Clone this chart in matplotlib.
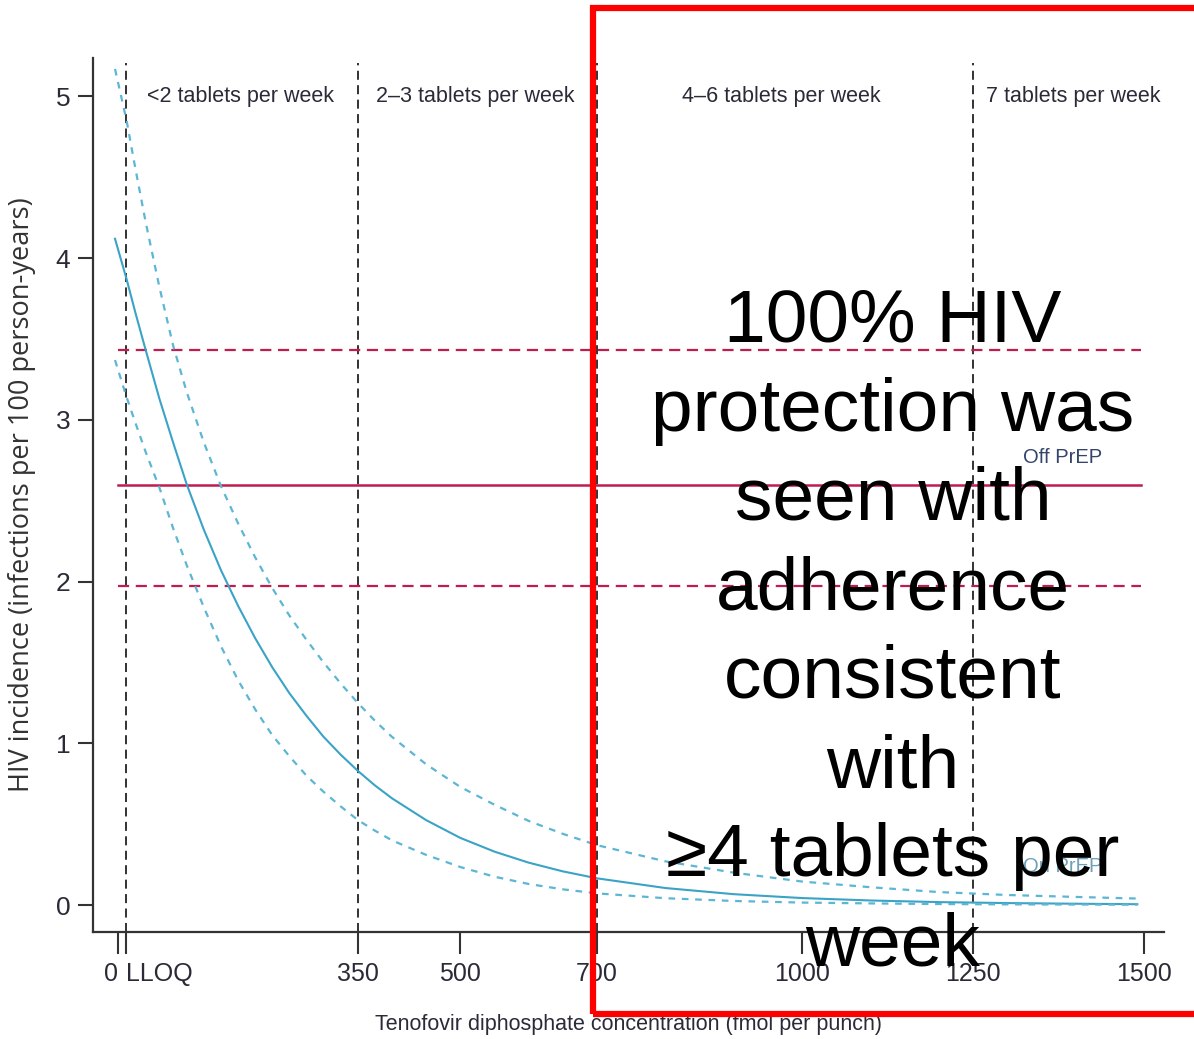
import matplotlib
matplotlib.use("Agg")
import matplotlib.pyplot as plt
from matplotlib.patches import Rectangle

# ---------------- data ----------------
conc = [-5, 12, 25, 40, 60, 80, 100, 125, 150, 175, 200, 225, 250, 275, 300, 325,
        350, 375, 400, 450, 500, 550, 600, 650, 700, 800, 900, 1000, 1100, 1200,
        1300, 1400, 1490]
incidence = [4.12, 3.87, 3.66, 3.43, 3.13, 2.86, 2.60, 2.32, 2.07, 1.85, 1.65, 1.47,
             1.31, 1.17, 1.04, 0.93, 0.83, 0.74, 0.66, 0.525, 0.415, 0.33, 0.262,
             0.208, 0.165, 0.105, 0.067, 0.043, 0.028, 0.018, 0.012, 0.008, 0.005]
upper_ci = [5.17, 4.85, 4.55, 4.22, 3.82, 3.46, 3.17, 2.86, 2.59, 2.36, 2.15, 1.96,
            1.79, 1.64, 1.50, 1.37, 1.25, 1.14, 1.04, 0.87, 0.73, 0.62, 0.52, 0.44,
            0.37, 0.27, 0.20, 0.145, 0.11, 0.08, 0.062, 0.05, 0.04]
lower_ci = [3.37, 3.14, 2.98, 2.80, 2.58, 2.33, 2.10, 1.84, 1.60, 1.39, 1.21, 1.05,
            0.92, 0.80, 0.70, 0.61, 0.526, 0.46, 0.40, 0.31, 0.235, 0.175, 0.13,
            0.097, 0.072, 0.042, 0.025, 0.015, 0.010, 0.006, 0.004, 0.003, 0.002]

off_prep_rate = 2.60
off_prep_ci = [3.43, 1.97]
off_prep_span = [0, 1495]

band_edges = [11, 350, 700, 1250]
band_labels = ["<2 tablets per week", "2\u20133 tablets per week",
               "4\u20136 tablets per week", "7 tablets per week"]
band_label_x = [178, 522, 969, 1396]

xtick_vals = [0, 11, 350, 500, 700, 1000, 1250, 1500]
xtick_labels = ["0", "LLOQ", "350", "500", "700", "1000", "1250", "1500"]
ytick_vals = [0, 1, 2, 3, 4, 5]

overlay_lines = ["100% HIV", "protection was", "seen with", "adherence",
                 "consistent", "with", "\u22654 tablets per", "week"]

# ---------------- style ----------------
NARROW = ["Liberation Sans", "DejaVu Sans"]
TXT = "#2b2b38"
BLUE = "#3aa3c6"
BLUE_L = "#5cb6d4"
CRIMSON = "#c01c4e"

W, H = 1194, 1039
fig = plt.figure(figsize=(W / 100, H / 100), dpi=100)
ax = fig.add_axes([92.7 / W, 1 - 931.7 / H, (1164 - 92.7) / W, (931.7 - 58.3) / H])
ax.set_xlim(-37.6, 1529)
ax.set_ylim(-0.165, 5.236)

for s in ["top", "right"]:
    ax.spines[s].set_visible(False)
for s in ["left", "bottom"]:
    ax.spines[s].set_color("#333333")
    ax.spines[s].set_linewidth(1.6)

# vertical band separators
for xe in band_edges:
    ax.plot([xe, xe], [-0.165, 5.205], color="#222222", lw=1.3,
            linestyle=(0, (5, 3)), zorder=2)

# off PrEP lines
ax.plot(off_prep_span, [off_prep_rate] * 2, color=CRIMSON, lw=1.8, zorder=3)
for v in off_prep_ci:
    ax.plot(off_prep_span, [v, v], color=CRIMSON, lw=1.6,
            linestyle=(0, (5, 3)), zorder=3)

# on PrEP curves
ax.plot(conc, incidence, color=BLUE, lw=1.5, zorder=4, solid_joinstyle="round")
ax.plot(conc, upper_ci, color=BLUE_L, lw=1.6, linestyle=(0, (3, 3)), zorder=4)
ax.plot(conc, lower_ci, color=BLUE_L, lw=1.6, linestyle=(0, (3, 3)), zorder=4)

# band labels
for lx, lab in zip(band_label_x, band_labels):
    ax.text(lx, 5.0, lab, ha="center", va="center", fontsize=15.5,
            family=NARROW, color=TXT)

ax.text(1323, 2.71, "Off PrEP", ha="left", va="bottom", fontsize=14.5,
        family=NARROW, color="#34446a")
ax.text(1323, 0.24, "On PrEP", ha="left", va="center", fontsize=14.5,
        family=NARROW, color="#6fa2ba")

# ticks
ax.set_xticks(xtick_vals)
ax.set_xticklabels(xtick_labels)
ax.set_yticks(ytick_vals)
ax.set_yticklabels([str(v) for v in ytick_vals])
ax.tick_params(axis="x", length=16, width=1.5, color="#333333", pad=6,
               labelsize=18, labelcolor=TXT)
ax.tick_params(axis="y", length=11, width=1.5, color="#333333", pad=5,
               labelsize=19, labelcolor=TXT)
for lab in ax.get_xticklabels() + ax.get_yticklabels():
    lab.set_family(NARROW)
xl = ax.get_xticklabels()
xl[1].set_horizontalalignment("left")
xl[0].set_horizontalalignment("right")

ax.set_xlabel("Tenofovir diphosphate concentration (fmol per punch)",
              fontsize=15.5, family=NARROW, color=TXT, labelpad=20)
ax.set_ylabel("HIV incidence (infections per 100 person-years)",
              fontsize=19.5, family=["Open Sans", "DejaVu Sans"], color="#333333",
              labelpad=14)

# red overlay box
fig.patches.append(Rectangle((593 / W, 1 - 1014 / H), (1260 - 593) / W,
                             (1014 - 8) / H, transform=fig.transFigure,
                             fill=False, edgecolor="#ff0000", lw=4.5,
                             clip_on=False, zorder=10))

baselines = [342, 431, 520, 609, 698, 787, 876, 965]
for txt, b in zip(overlay_lines, baselines):
    fig.text(893 / W, 1 - b / H, txt, ha="center", va="baseline", fontsize=54,
             family=["Liberation Sans", "DejaVu Sans"], color="black", zorder=11)

fig.savefig("out.png", dpi=100)
